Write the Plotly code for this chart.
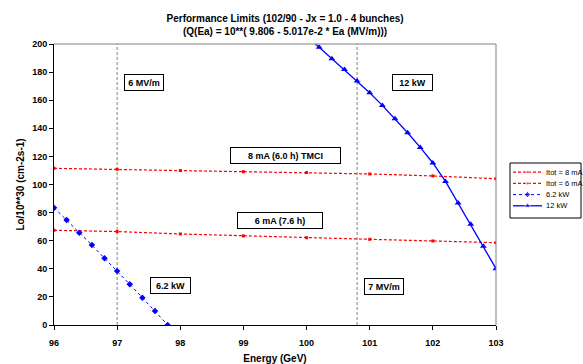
import plotly.graph_objects as go

# Beam energy grid (GeV) and luminosity limits (10^30 cm-2 s-1)
energy_itot = [96, 97, 98, 99, 100, 101, 102, 103]
lumi_8ma = [111.5, 110.8, 109.9, 109.1, 108.5, 107.5, 106.1, 104.1]
lumi_6ma = [67.4, 66.5, 64.8, 63.4, 62.1, 61.0, 59.8, 58.6]

energy_62kw = [96.0, 96.2, 96.4, 96.6, 96.8, 97.0, 97.2, 97.4, 97.6, 97.8]
lumi_62kw = [83.5, 74.7, 65.7, 56.9, 47.5, 38.4, 29.0, 19.4, 10.0, 0.0]

energy_12kw = [100.0, 100.2, 100.4, 100.6, 100.8, 101.0, 101.2, 101.4, 101.6,
               101.8, 102.0, 102.2, 102.4, 102.6, 102.8, 103.0]
lumi_12kw = [205.7, 197.6, 189.5, 181.9, 173.6, 165.3, 156.3, 146.8, 136.8,
             126.4, 115.3, 102.2, 86.8, 71.7, 56.0, 40.1]

# Energies reached at the given accelerating gradients
gradient_energy = [97.0, 100.8]

# Boxed labels: text, energy, luminosity, box width (px)
label_text = ["6 MV/m", "12 kW", "8 mA (6.0 h) TMCI", "6 mA (7.6 h)", "6.2 kW", "7 MV/m"]
label_x = [97.42, 101.68, 99.66, 99.58, 97.84, 101.22]
label_y = [172.6, 172.5, 121.0, 74.7, 28.1, 27.5]
label_w = [40, 41, 111, 86, 41, 40]

series_names = ["Itot = 8 mA", "Itot = 6 mA", "6.2 kW", "12 kW"]

FONT = "Liberation Sans, Arial, sans-serif"
RED, BLUE = "#ff0000", "#0000ff"

styles = [
    dict(line=dict(color=RED, width=1.2, dash="3px,2px"),
         marker=dict(symbol="square", size=3, color=RED)),
    dict(line=dict(color=RED, width=1.2, dash="3px,2px"),
         marker=dict(symbol="square", size=3, color=RED)),
    dict(line=dict(color=BLUE, width=1, dash="dot"),
         marker=dict(symbol="diamond", size=5, color=BLUE)),
    dict(line=dict(color=BLUE, width=1.3),
         marker=dict(symbol="triangle-up", size=6, color=BLUE)),
]
series_x = [energy_itot, energy_itot, energy_62kw, energy_12kw]
series_y = [lumi_8ma, lumi_6ma, lumi_62kw, lumi_12kw]

fig = go.Figure()

for name, xs, ys, st in zip(series_names, series_x, series_y, styles):
    fig.add_trace(go.Scatter(x=xs, y=ys, name=name, mode="lines+markers",
                             showlegend=False, **st))

# Compact boxed key on its own small axes to the right of the chart
KEY_LINE = [3, 17.5, 32]
for i, (name, st) in enumerate(zip(series_names, styles)):
    mk = dict(st["marker"])
    mk["size"] = [0, mk["size"], 0]
    fig.add_trace(go.Scatter(x=KEY_LINE, y=[i, i, i], mode="lines+markers",
                             line=st["line"], marker=mk, showlegend=False,
                             hoverinfo="skip", xaxis="x2", yaxis="y2"))
    fig.add_annotation(x=34, y=i, xref="x2", yref="y2", text=name,
                       showarrow=False, xanchor="left", yanchor="middle",
                       font=dict(family=FONT, size=7.5, color="black"))
fig.add_shape(type="rect", xref="x2 domain", yref="y2 domain",
              x0=0, x1=1, y0=0, y1=1, line=dict(color="black", width=1))

for e in gradient_energy:
    fig.add_shape(type="line", xref="x", yref="y", x0=e, x1=e, y0=0, y1=200,
                  line=dict(color="#808080", width=1, dash="3px,2px"), layer="below")

for t, x, y, w in zip(label_text, label_x, label_y, label_w):
    fig.add_annotation(
        x=x, y=y, xref="x", yref="y", text=f"<b>{t}</b>", showarrow=False,
        font=dict(family=FONT, size=9, color="black"),
        bgcolor="white", bordercolor="black", borderwidth=1, borderpad=2,
        width=w - 6, height=11,
    )

# Grey frame on the top and right of the plot area
fig.add_shape(type="line", xref="x domain", yref="y domain", x0=0, x1=1, y0=1, y1=1,
              line=dict(color="#808080", width=1))
fig.add_shape(type="line", xref="x domain", yref="y domain", x0=1, x1=1, y0=0, y1=1,
              line=dict(color="#808080", width=1))

fig.update_layout(
    width=583, height=364,
    margin=dict(l=54, r=2, t=44, b=39, autoexpand=False),
    paper_bgcolor="white", plot_bgcolor="white",
    font=dict(family=FONT, size=9, color="black"),
    title=dict(
        text="<b>Performance Limits (102/90 - Jx = 1.0 - 4 bunches)<br>"
             "(Q(Ea) = 10**( 9.806 - 5.017e-2 * Ea (MV/m)))</b>",
        x=0.489, xref="container", xanchor="center",
        y=0.94, yref="container", yanchor="top",
        font=dict(family=FONT, size=10, color="black"),
    ),
    showlegend=False,
    xaxis=dict(
        domain=[0, 442 / 527], automargin=False,
        range=[96, 103], dtick=1, showgrid=False, zeroline=False,
        showline=True, linecolor="black", linewidth=1,
        ticks="outside", ticklen=4, tickcolor="black", ticklabelstandoff=5,
        tickfont=dict(family=FONT, size=9, color="black"),
        tickprefix="<b>", ticksuffix="</b>",
        title=dict(text="<b>Energy (GeV)</b>", standoff=14,
                   font=dict(family=FONT, size=10, color="black")),
    ),
    yaxis=dict(
        automargin=False,
        range=[0, 200], dtick=20, showgrid=False, zeroline=False,
        showline=True, linecolor="black", linewidth=1,
        ticks="outside", ticklen=4, tickcolor="black",
        tickfont=dict(family=FONT, size=9, color="black"),
        tickprefix="<b>", ticksuffix="</b>",
        title=dict(text="<b>Lo/10**30 (cm-2s-1)</b>", standoff=5,
                   font=dict(family=FONT, size=10, color="black")),
    ),
    xaxis2=dict(domain=[456 / 527, 1], range=[0, 71], visible=False,
                fixedrange=True, anchor="y2"),
    yaxis2=dict(domain=[107 / 281, 162 / 281], range=[4.09, -0.82], visible=False,
                fixedrange=True, anchor="x2"),
)

fig.write_html("out.html")
